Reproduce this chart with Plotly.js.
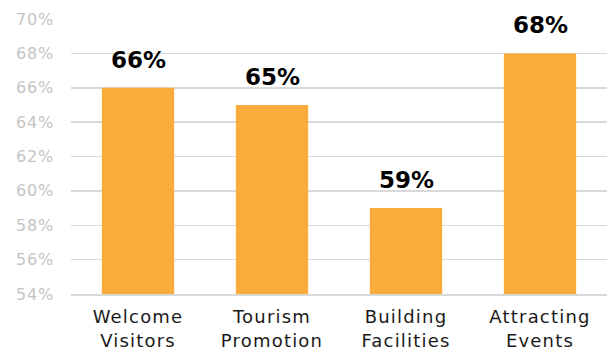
<!DOCTYPE html>
<html>
<head>
<meta charset="utf-8">
<script src="https://cdn.plot.ly/plotly-3.0.1.min.js"></script>
<style>
  html, body { margin: 0; padding: 0; background: #fff; }
  #chart { width: 615px; height: 354px; }
  #chart .xtick text { letter-spacing: 1.2px; }
  #chart .ytick text { letter-spacing: 0.8px; }
</style>
</head>
<body>
<div id="chart"></div>
<script>
const categories = ["Welcome<br>Visitors", "Tourism<br>Promotion", "Building<br>Facilities", "Attracting<br>Events"];
const values = [66, 65, 59, 68];
const valueLabels = ["66%", "65%", "59%", "68%"];
const yTicks = [54, 56, 58, 60, 62, 64, 66, 68, 70];

const barColor = "#F9AC3B";

const trace = {
  type: "bar",
  x: categories,
  y: values,
  marker: { color: barColor },
  hoverinfo: "skip"
};

const annotations = categories.map((c, i) => ({
  x: c,
  y: values[i],
  xref: "x",
  yref: "y",
  text: "<b>" + valueLabels[i] + "</b>",
  showarrow: false,
  yanchor: "bottom",
  yshift: 13,
  font: { family: "DejaVu Sans", size: 23, color: "#000" }
}));

const layout = {
  width: 615,
  height: 354,
  margin: { l: 71, r: 8, t: 19, b: 60 },
  paper_bgcolor: "#fff",
  plot_bgcolor: "#fff",
  showlegend: false,
  bargap: 0.46,
  xaxis: {
    type: "category",
    tickfont: { family: "DejaVu Sans", size: 18, color: "#1a1a1a" },
    showline: true,
    linecolor: "#d9d9d9",
    linewidth: 1.5,
    ticks: "",
    ticklen: 0,
    ticklabelstandoff: 6
  },
  yaxis: {
    range: [54, 70],
    tickvals: yTicks,
    ticktext: yTicks.map(v => v + "%"),
    tickfont: { family: "DejaVu Sans", size: 16, color: "#C4C4C4" },
    showgrid: true,
    gridcolor: "#d9d9d9",
    gridwidth: 1.5,
    zeroline: false,
    ticks: "",
    ticklabelstandoff: 16
  },
  annotations: annotations
};

Plotly.newPlot("chart", [trace], layout, { staticPlot: true, displayModeBar: false });
</script>
</body>
</html>
